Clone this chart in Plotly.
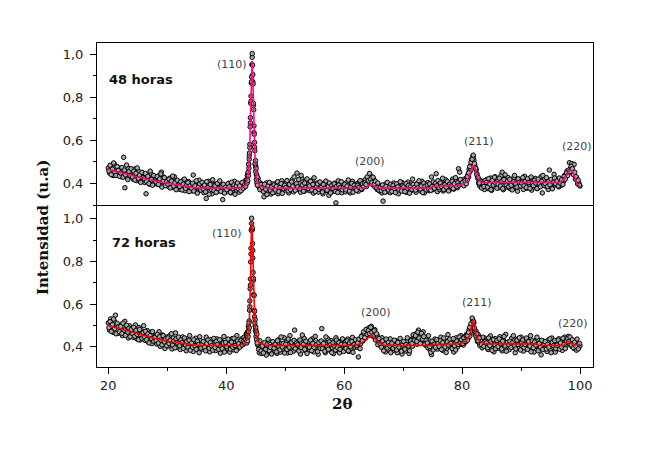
import numpy as np
import plotly.graph_objects as go

# ---------------- data ----------------
# 2-theta sampling grids of the diffractograms (degrees)
two_theta = np.round(np.arange(20.0, 100.0001, 0.2), 1)      # even steps
two_theta_b = np.round(np.arange(20.1, 99.9001, 0.2), 1)     # interleaved steps
peak110_theta_48 = np.round(np.arange(43.5, 45.3001, 0.05), 2)
peak110_theta_72 = np.round(np.arange(43.45, 45.2501, 0.05), 2)
peak211_theta = np.round(np.arange(80.9, 82.9001, 0.2), 1)

# 48 horas - measured intensity (u.a)
int_48 = [
    0.472, 0.448, 0.481, 0.455, 0.437, 0.490, 0.462, 0.443, 0.474, 0.451,
    0.466, 0.431, 0.458, 0.521, 0.380, 0.452, 0.425, 0.470, 0.446, 0.461,
    0.452, 0.420, 0.441, 0.468, 0.413, 0.436, 0.455, 0.409, 0.432, 0.447,
    0.437, 0.404, 0.352, 0.419, 0.428, 0.396, 0.445, 0.413, 0.431, 0.402,
    0.425, 0.398, 0.417, 0.436, 0.392, 0.452, 0.388, 0.429, 0.404, 0.415,
    0.414, 0.385, 0.424, 0.398, 0.381, 0.409, 0.431, 0.390, 0.402, 0.376,
    0.401, 0.372, 0.395, 0.412, 0.380, 0.366, 0.398, 0.387, 0.409, 0.375,
    0.392, 0.366, 0.439, 0.377, 0.389, 0.360, 0.396, 0.415, 0.371, 0.385,
    0.383, 0.357, 0.398, 0.330, 0.389, 0.410, 0.364, 0.381, 0.352, 0.393,
    0.371, 0.396, 0.361, 0.385, 0.404, 0.368, 0.377, 0.325, 0.392, 0.380,
    0.388, 0.362, 0.401, 0.375, 0.356, 0.392, 0.369, 0.410, 0.381, 0.365,
    0.383, 0.360, 0.395, 0.372, 0.398, 0.381, 0.412, 0.408, 0.438, 0.489,
    0.581, 0.805, 0.985, 0.762, 0.590, 0.478, 0.418, 0.423, 0.381, 0.401,
    0.372, 0.395, 0.338, 0.384, 0.402, 0.358, 0.379, 0.390, 0.351, 0.398,
    0.384, 0.360, 0.399, 0.371, 0.352, 0.392, 0.378, 0.412, 0.365, 0.387,
    0.369, 0.404, 0.381, 0.356, 0.395, 0.374, 0.418, 0.361, 0.389, 0.377,
    0.448, 0.372, 0.401, 0.359, 0.425, 0.386, 0.363, 0.410, 0.392, 0.370,
    0.397, 0.366, 0.382, 0.414, 0.355, 0.391, 0.377, 0.402, 0.360, 0.385,
    0.373, 0.399, 0.352, 0.388, 0.406, 0.367, 0.381, 0.345, 0.394, 0.378,
    0.390, 0.364, 0.401, 0.310, 0.376, 0.412, 0.369, 0.385, 0.357, 0.396,
    0.382, 0.361, 0.403, 0.374, 0.392, 0.356, 0.386, 0.410, 0.368, 0.395,
    0.377, 0.399, 0.364, 0.405, 0.388, 0.372, 0.410, 0.393, 0.418, 0.386,
    0.425, 0.402, 0.438, 0.411, 0.395, 0.421, 0.384, 0.403, 0.372, 0.391,
    0.365, 0.388, 0.356, 0.318, 0.380, 0.397, 0.362, 0.374, 0.391, 0.357,
    0.384, 0.369, 0.402, 0.361, 0.379, 0.395, 0.352, 0.387, 0.371, 0.404,
    0.366, 0.390, 0.375, 0.358, 0.406, 0.381, 0.363, 0.397, 0.420, 0.372,
    0.386, 0.359, 0.401, 0.377, 0.392, 0.365, 0.410, 0.383, 0.356, 0.398,
    0.379, 0.404, 0.366, 0.390, 0.430, 0.371, 0.395, 0.385, 0.445, 0.362,
    0.393, 0.371, 0.408, 0.382, 0.365, 0.399, 0.417, 0.376, 0.391, 0.368,
    0.402, 0.385, 0.420, 0.374, 0.396, 0.411, 0.380, 0.468, 0.452, 0.405,
    0.412, 0.395, 0.420, 0.403, 0.428, 0.441, 0.466, 0.482, 0.510, 0.525,
    0.508, 0.478, 0.462, 0.430, 0.402, 0.388, 0.412, 0.381, 0.395, 0.372,
    0.391, 0.418, 0.376, 0.402, 0.425, 0.368, 0.410, 0.387, 0.431, 0.395,
    0.412, 0.380, 0.404, 0.436, 0.452, 0.371, 0.419, 0.398, 0.383, 0.427,
    0.401, 0.375, 0.415, 0.393, 0.428, 0.382, 0.409, 0.364, 0.420, 0.397,
    0.386, 0.411, 0.372, 0.433, 0.399, 0.378, 0.416, 0.392, 0.405, 0.369,
    0.408, 0.384, 0.423, 0.395, 0.377, 0.414, 0.390, 0.431, 0.356, 0.402,
    0.419, 0.387, 0.405, 0.372, 0.462, 0.396, 0.381, 0.412, 0.442, 0.393,
    0.398, 0.415, 0.384, 0.409, 0.392, 0.421, 0.410, 0.438, 0.431, 0.458,
    0.447, 0.496, 0.470, 0.492, 0.451, 0.488, 0.420, 0.428, 0.398, 0.402,
    0.388,
]
int_48_b = [
    0.458, 0.484, 0.441, 0.466, 0.495, 0.452, 0.437, 0.478, 0.460, 0.433,
    0.448, 0.474, 0.429, 0.462, 0.440, 0.485, 0.418, 0.455, 0.436, 0.468,
    0.430, 0.457, 0.416, 0.447, 0.472, 0.424, 0.439, 0.405, 0.451, 0.427,
    0.421, 0.446, 0.409, 0.433, 0.399, 0.457, 0.418, 0.392, 0.437, 0.411,
    0.406, 0.432, 0.395, 0.421, 0.444, 0.383, 0.412, 0.427, 0.390, 0.408,
    0.397, 0.420, 0.379, 0.411, 0.434, 0.388, 0.403, 0.371, 0.415, 0.392,
    0.386, 0.408, 0.370, 0.397, 0.420, 0.377, 0.392, 0.404, 0.362, 0.389,
    0.378, 0.401, 0.365, 0.389, 0.412, 0.355, 0.383, 0.398, 0.369, 0.405,
    0.374, 0.392, 0.361, 0.408, 0.381, 0.350, 0.395, 0.372, 0.417, 0.366,
    0.389, 0.358, 0.400, 0.376, 0.412, 0.363, 0.387, 0.396, 0.355, 0.382,
    0.371, 0.398, 0.384, 0.359, 0.405, 0.377, 0.393, 0.350, 0.388, 0.402,
    0.374, 0.389, 0.366, 0.404, 0.378, 0.392, 0.386, 0.420, 0.447, 0.512,
    0.705, 0.894, 0.872, 0.667, 0.488, 0.441, 0.392, 0.408, 0.371, 0.395,
    0.381, 0.362, 0.396, 0.373, 0.349, 0.389, 0.405, 0.367, 0.384, 0.357,
    0.393, 0.370, 0.386, 0.408, 0.362, 0.381, 0.399, 0.354, 0.376, 0.391,
    0.380, 0.413, 0.365, 0.396, 0.372, 0.407, 0.387, 0.430, 0.368, 0.399,
    0.384, 0.418, 0.375, 0.437, 0.393, 0.364, 0.402, 0.381, 0.421, 0.376,
    0.388, 0.410, 0.370, 0.395, 0.426, 0.362, 0.384, 0.398, 0.373, 0.407,
    0.382, 0.360, 0.395, 0.378, 0.411, 0.369, 0.386, 0.402, 0.356, 0.390,
    0.377, 0.398, 0.363, 0.386, 0.358, 0.393, 0.380, 0.408, 0.371, 0.384,
    0.395, 0.370, 0.388, 0.416, 0.365, 0.383, 0.400, 0.359, 0.391, 0.378,
    0.368, 0.391, 0.382, 0.413, 0.376, 0.398, 0.385, 0.402, 0.395, 0.430,
    0.412, 0.446, 0.419, 0.405, 0.429, 0.397, 0.410, 0.380, 0.402, 0.368,
    0.381, 0.366, 0.393, 0.374, 0.359, 0.387, 0.405, 0.370, 0.382, 0.396,
    0.363, 0.391, 0.377, 0.358, 0.398, 0.384, 0.370, 0.408, 0.365, 0.389,
    0.384, 0.362, 0.399, 0.378, 0.391, 0.355, 0.386, 0.372, 0.395, 0.381,
    0.369, 0.396, 0.380, 0.412, 0.374, 0.389, 0.358, 0.401, 0.387, 0.370,
    0.392, 0.375, 0.398, 0.368, 0.386, 0.407, 0.378, 0.401, 0.389, 0.413,
    0.380, 0.402, 0.386, 0.424, 0.371, 0.395, 0.383, 0.409, 0.365, 0.397,
    0.388, 0.410, 0.376, 0.399, 0.427, 0.386, 0.404, 0.392, 0.418, 0.396,
    0.405, 0.389, 0.413, 0.398, 0.417, 0.430, 0.452, 0.463, 0.498, 0.520,
    0.486, 0.470, 0.445, 0.421, 0.398, 0.410, 0.379, 0.402, 0.386, 0.414,
    0.405, 0.383, 0.422, 0.397, 0.371, 0.414, 0.392, 0.429, 0.401, 0.378,
    0.396, 0.424, 0.388, 0.409, 0.376, 0.418, 0.440, 0.393, 0.411, 0.385,
    0.419, 0.392, 0.370, 0.407, 0.437, 0.398, 0.383, 0.421, 0.405, 0.388,
    0.402, 0.427, 0.389, 0.410, 0.381, 0.422, 0.404, 0.377, 0.430, 0.396,
    0.390, 0.415, 0.402, 0.376, 0.420, 0.398, 0.385, 0.409, 0.437, 0.393,
    0.400, 0.427, 0.386, 0.410, 0.394, 0.419, 0.375, 0.406, 0.425, 0.398,
    0.412, 0.388, 0.425, 0.401, 0.417, 0.395, 0.432, 0.420, 0.448, 0.436,
    0.462, 0.455, 0.479, 0.468, 0.440, 0.452, 0.431, 0.412, 0.415, 0.392,
]
peak110_int_48 = [
    0.418, 0.402, 0.437, 0.413, 0.452, 0.436, 0.489, 0.470, 0.528, 0.541,
    0.566, 0.662, 0.681, 0.772, 0.781, 0.865, 0.872, 0.951, 1.002, 0.948,
    0.905, 0.861, 0.771, 0.742, 0.636, 0.628, 0.568, 0.552, 0.492, 0.506,
    0.455, 0.469, 0.418, 0.441, 0.402, 0.430, 0.392,
]
peak211_int_48 = [0.432, 0.449, 0.478, 0.497, 0.512, 0.531, 0.492, 0.470, 0.441, 0.428, 0.402]

# 48 horas - fitted curve
fit_theta_48 = [20, 22, 24, 26, 28, 30, 32, 34, 35.5, 42.5, 43.0, 43.4, 43.7, 43.95,
                44.15, 44.4, 44.55, 44.7, 44.9, 45.1, 45.4, 45.8, 46.5, 47.5, 54, 54.3,
                63.6, 64.2, 64.6, 65.2, 66, 74.5, 75, 79, 80.2, 80.8, 81.3, 81.85, 82.2,
                82.7, 83.2, 84, 85, 96.5, 97.2, 97.8, 98.3, 98.7, 99.2, 99.6, 100]
fit_int_48 = [0.465, 0.450, 0.436, 0.423, 0.410, 0.400, 0.391, 0.383, 0.378, 0.378, 0.385,
              0.400, 0.430, 0.520, 0.750, 0.968, 0.850, 0.650, 0.500, 0.430, 0.400, 0.387,
              0.380, 0.377, 0.377, 0.380, 0.380, 0.390, 0.395, 0.386, 0.378, 0.378, 0.386,
              0.390, 0.397, 0.410, 0.440, 0.485, 0.470, 0.425, 0.405, 0.403, 0.405, 0.405,
              0.415, 0.440, 0.462, 0.455, 0.420, 0.395, 0.384]

# 72 horas - measured intensity (u.a)
int_72 = [
    0.512, 0.478, 0.531, 0.495, 0.468, 0.520, 0.548, 0.505, 0.462, 0.498,
    0.471, 0.503, 0.452, 0.490, 0.519, 0.465, 0.482, 0.441, 0.498, 0.476,
    0.483, 0.445, 0.470, 0.502, 0.438, 0.461, 0.490, 0.432, 0.475, 0.451,
    0.499, 0.430, 0.458, 0.476, 0.421, 0.449, 0.468, 0.415, 0.455, 0.437,
    0.451, 0.413, 0.440, 0.470, 0.402, 0.436, 0.455, 0.418, 0.392, 0.445,
    0.432, 0.404, 0.452, 0.418, 0.390, 0.441, 0.425, 0.465, 0.397, 0.420,
    0.428, 0.387, 0.411, 0.446, 0.399, 0.420, 0.381, 0.437, 0.414, 0.452,
    0.396, 0.425, 0.378, 0.411, 0.440, 0.392, 0.418, 0.372, 0.431, 0.405,
    0.389, 0.421, 0.402, 0.445, 0.383, 0.412, 0.376, 0.433, 0.398, 0.416,
    0.408, 0.382, 0.437, 0.395, 0.419, 0.370, 0.426, 0.401, 0.448, 0.387,
    0.413, 0.391, 0.429, 0.375, 0.404, 0.438, 0.386, 0.417, 0.397, 0.452,
    0.392, 0.421, 0.403, 0.437, 0.410, 0.445, 0.428, 0.461, 0.452, 0.492,
    0.615, 0.862, 0.948, 0.712, 0.541, 0.482, 0.431, 0.405, 0.372, 0.396,
    0.368, 0.395, 0.377, 0.412, 0.361, 0.390, 0.428, 0.374, 0.401, 0.383,
    0.420, 0.381, 0.406, 0.369, 0.432, 0.397, 0.375, 0.415, 0.388, 0.442,
    0.397, 0.423, 0.371, 0.410, 0.452, 0.386, 0.414, 0.379, 0.478, 0.402,
    0.388, 0.426, 0.405, 0.366, 0.419, 0.395, 0.440, 0.381, 0.412, 0.398,
    0.421, 0.384, 0.409, 0.437, 0.376, 0.401, 0.428, 0.390, 0.365, 0.415,
    0.406, 0.485, 0.393, 0.420, 0.372, 0.411, 0.438, 0.385, 0.402, 0.429,
    0.395, 0.368, 0.417, 0.442, 0.384, 0.408, 0.371, 0.425, 0.399, 0.414,
    0.387, 0.421, 0.402, 0.436, 0.378, 0.410, 0.392, 0.444, 0.419, 0.398,
    0.425, 0.398, 0.352, 0.433, 0.415, 0.452, 0.428, 0.461, 0.440, 0.472,
    0.468, 0.489, 0.455, 0.496, 0.472, 0.447, 0.480, 0.438, 0.452, 0.421,
    0.430, 0.405, 0.442, 0.391, 0.418, 0.376, 0.425, 0.409, 0.384, 0.437,
    0.402, 0.381, 0.418, 0.395, 0.428, 0.372, 0.410, 0.389, 0.422, 0.366,
    0.398, 0.415, 0.380, 0.426, 0.391, 0.368, 0.412, 0.435, 0.402, 0.449,
    0.438, 0.461, 0.412, 0.478, 0.430, 0.452, 0.419, 0.470, 0.426, 0.407,
    0.441, 0.395, 0.428, 0.383, 0.363, 0.414, 0.397, 0.436, 0.405, 0.389,
    0.421, 0.398, 0.445, 0.406, 0.382, 0.430, 0.414, 0.392, 0.457, 0.410,
    0.401, 0.428, 0.389, 0.375, 0.417, 0.442, 0.398, 0.431, 0.410, 0.452,
    0.436, 0.408, 0.447, 0.422, 0.460, 0.438, 0.481, 0.470, 0.503, 0.527,
    0.512, 0.458, 0.471, 0.425, 0.448, 0.406, 0.437, 0.395, 0.428, 0.441,
    0.402, 0.433, 0.387, 0.420, 0.451, 0.395, 0.414, 0.376, 0.438, 0.409,
    0.425, 0.392, 0.447, 0.408, 0.381, 0.430, 0.416, 0.458, 0.397, 0.420,
    0.386, 0.413, 0.440, 0.399, 0.427, 0.372, 0.410, 0.436, 0.393, 0.418,
    0.445, 0.401, 0.380, 0.423, 0.409, 0.437, 0.390, 0.415, 0.452, 0.398,
    0.412, 0.375, 0.428, 0.401, 0.433, 0.388, 0.419, 0.362, 0.405, 0.426,
    0.393, 0.417, 0.378, 0.432, 0.404, 0.386, 0.441, 0.398, 0.412, 0.375,
    0.420, 0.395, 0.437, 0.408, 0.426, 0.383, 0.418, 0.445, 0.402, 0.430,
    0.448, 0.415, 0.436, 0.401, 0.429, 0.392, 0.418, 0.384, 0.412, 0.397,
    0.405,
]
int_72_b = [
    0.489, 0.518, 0.472, 0.504, 0.530, 0.485, 0.461, 0.510, 0.493, 0.470,
    0.495, 0.462, 0.511, 0.478, 0.453, 0.500, 0.469, 0.487, 0.447, 0.482,
    0.462, 0.491, 0.449, 0.477, 0.458, 0.433, 0.481, 0.455, 0.440, 0.466,
    0.446, 0.472, 0.433, 0.460, 0.418, 0.452, 0.438, 0.471, 0.426, 0.444,
    0.429, 0.458, 0.417, 0.446, 0.431, 0.409, 0.452, 0.423, 0.437, 0.405,
    0.441, 0.415, 0.430, 0.461, 0.408, 0.426, 0.395, 0.437, 0.418, 0.445,
    0.405, 0.432, 0.419, 0.393, 0.441, 0.408, 0.425, 0.398, 0.430, 0.384,
    0.417, 0.398, 0.433, 0.405, 0.388, 0.426, 0.410, 0.447, 0.394, 0.413,
    0.424, 0.398, 0.381, 0.415, 0.432, 0.393, 0.420, 0.405, 0.384, 0.439,
    0.396, 0.425, 0.410, 0.388, 0.433, 0.402, 0.391, 0.418, 0.375, 0.421,
    0.400, 0.436, 0.411, 0.389, 0.422, 0.398, 0.440, 0.405, 0.382, 0.427,
    0.415, 0.398, 0.430, 0.408, 0.425, 0.417, 0.436, 0.448, 0.470, 0.521,
    0.718, 0.978, 0.816, 0.641, 0.497, 0.463, 0.412, 0.387, 0.428, 0.380,
    0.403, 0.371, 0.419, 0.388, 0.409, 0.435, 0.382, 0.397, 0.366, 0.424,
    0.393, 0.411, 0.376, 0.428, 0.402, 0.385, 0.446, 0.399, 0.416, 0.371,
    0.412, 0.387, 0.436, 0.398, 0.373, 0.421, 0.402, 0.430, 0.391, 0.417,
    0.409, 0.380, 0.432, 0.397, 0.455, 0.411, 0.388, 0.426, 0.369, 0.403,
    0.398, 0.431, 0.382, 0.416, 0.397, 0.449, 0.409, 0.378, 0.420, 0.393,
    0.427, 0.391, 0.415, 0.379, 0.446, 0.402, 0.388, 0.423, 0.410, 0.372,
    0.418, 0.403, 0.385, 0.431, 0.396, 0.420, 0.388, 0.411, 0.437, 0.378,
    0.409, 0.392, 0.428, 0.381, 0.418, 0.400, 0.425, 0.374, 0.411, 0.433,
    0.406, 0.419, 0.436, 0.391, 0.447, 0.428, 0.470, 0.443, 0.481, 0.458,
    0.476, 0.462, 0.491, 0.468, 0.450, 0.475, 0.432, 0.461, 0.410, 0.439,
    0.415, 0.398, 0.427, 0.381, 0.412, 0.436, 0.394, 0.420, 0.405, 0.372,
    0.417, 0.393, 0.431, 0.405, 0.385, 0.420, 0.398, 0.439, 0.379, 0.408,
    0.425, 0.389, 0.410, 0.442, 0.403, 0.381, 0.428, 0.415, 0.456, 0.431,
    0.452, 0.425, 0.468, 0.441, 0.415, 0.463, 0.435, 0.448, 0.412, 0.430,
    0.418, 0.452, 0.401, 0.374, 0.426, 0.385, 0.412, 0.397, 0.433, 0.415,
    0.402, 0.428, 0.387, 0.419, 0.441, 0.399, 0.373, 0.424, 0.408, 0.436,
    0.416, 0.392, 0.438, 0.404, 0.385, 0.427, 0.411, 0.446, 0.419, 0.433,
    0.415, 0.442, 0.425, 0.451, 0.431, 0.462, 0.449, 0.490, 0.512, 0.518,
    0.485, 0.463, 0.437, 0.458, 0.419, 0.432, 0.410, 0.445, 0.402, 0.424,
    0.418, 0.395, 0.441, 0.406, 0.426, 0.383, 0.433, 0.412, 0.391, 0.429,
    0.401, 0.437, 0.415, 0.390, 0.426, 0.448, 0.404, 0.379, 0.421, 0.409,
    0.426, 0.397, 0.418, 0.452, 0.405, 0.390, 0.431, 0.411, 0.442, 0.385,
    0.419, 0.432, 0.396, 0.411, 0.441, 0.388, 0.425, 0.403, 0.376, 0.428,
    0.396, 0.422, 0.408, 0.445, 0.381, 0.415, 0.398, 0.430, 0.387, 0.411,
    0.424, 0.389, 0.411, 0.398, 0.437, 0.372, 0.420, 0.405, 0.429, 0.391,
    0.407, 0.431, 0.389, 0.418, 0.398, 0.440, 0.411, 0.392, 0.427, 0.438,
    0.425, 0.446, 0.408, 0.433, 0.396, 0.421, 0.403, 0.436, 0.390, 0.415,
]
peak110_int_72 = [
    0.455, 0.418, 0.462, 0.428, 0.471, 0.447, 0.496, 0.471, 0.512, 0.489,
    0.571, 0.588, 0.672, 0.689, 0.798, 0.835, 0.946, 1.003, 0.951, 0.958,
    0.884, 0.852, 0.749, 0.721, 0.645, 0.642, 0.571, 0.566, 0.512, 0.528,
    0.476, 0.491, 0.448, 0.470, 0.433, 0.459, 0.418,
]
peak211_int_72 = [0.452, 0.468, 0.492, 0.508, 0.535, 0.518, 0.488, 0.452, 0.460, 0.428, 0.441]

# 72 horas - fitted curve
fit_theta_72 = [20, 22, 24, 26, 28, 30, 32, 34, 35.5, 42, 42.7, 43.2, 43.6, 43.9, 44.1,
                44.3, 44.45, 44.6, 44.8, 45.0, 45.3, 45.7, 46.3, 47, 62, 62.8, 63.6, 64.6,
                65.3, 65.9, 66.6, 67.5, 74.5, 75, 78.5, 79.8, 80.6, 81.2, 81.6, 81.85,
                82.1, 82.5, 83.0, 84, 92.5, 93, 97.2, 97.7, 98.1, 98.5, 99, 100]
fit_int_72 = [0.500, 0.484, 0.468, 0.452, 0.438, 0.426, 0.417, 0.410, 0.406, 0.406, 0.410,
              0.420, 0.440, 0.500, 0.700, 0.995, 0.900, 0.700, 0.550, 0.470, 0.430, 0.415,
              0.410, 0.406, 0.406, 0.415, 0.430, 0.457, 0.435, 0.418, 0.408, 0.406, 0.406,
              0.410, 0.413, 0.415, 0.425, 0.450, 0.490, 0.530, 0.490, 0.445, 0.425, 0.414,
              0.413, 0.406, 0.406, 0.415, 0.426, 0.415, 0.409, 0.410]

panel_labels = ["48 horas", "72 horas"]
peak_labels = ["(110)", "(200)", "(211)", "(220)"]

# ---------------- figure ----------------
X_RANGE = [18.08, 102.2]
TICK_FONT = dict(family="DejaVu Sans, Verdana, sans-serif", size=13, color="#222222")
TITLE_FONT = dict(family="DejaVu Serif, serif", size=15, color="#111111")
ANN_FONT = dict(family="DejaVu Sans, Verdana, sans-serif", size=11, color="#444444")

marker_style = dict(symbol="circle", size=4.5, color="#a8a8a8",
                    line=dict(color="#000000", width=1))

fig = go.Figure()

# bottom panel (72 h) on x / y
fig.add_trace(go.Scatter(
    x=np.concatenate([two_theta, two_theta_b, peak110_theta_72, peak211_theta]),
    y=np.concatenate([int_72, int_72_b, peak110_int_72, peak211_int_72]),
    mode="markers", marker=marker_style, xaxis="x", yaxis="y",
    showlegend=False, hoverinfo="skip"))
fig.add_trace(go.Scatter(
    x=fit_theta_72, y=fit_int_72, mode="lines",
    line=dict(color="#ff0000", width=1.6), xaxis="x", yaxis="y",
    showlegend=False, hoverinfo="skip"))

# top panel (48 h) on x2 / y2
fig.add_trace(go.Scatter(
    x=np.concatenate([two_theta, two_theta_b, peak110_theta_48, peak211_theta]),
    y=np.concatenate([int_48, int_48_b, peak110_int_48, peak211_int_48]),
    mode="markers", marker=marker_style, xaxis="x2", yaxis="y2",
    showlegend=False, hoverinfo="skip"))
fig.add_trace(go.Scatter(
    x=fit_theta_48, y=fit_int_48, mode="lines",
    line=dict(color="#ff0a80", width=1.6), xaxis="x2", yaxis="y2",
    showlegend=False, hoverinfo="skip"))

axis_line = dict(showline=True, linecolor="black", linewidth=1, showgrid=False,
                 zeroline=False)

fig.update_layout(
    width=661, height=463,
    margin=dict(l=97, r=68, t=43, b=96),
    paper_bgcolor="white", plot_bgcolor="white",
    separators=",.",
    showlegend=False,
    xaxis=dict(domain=[0, 1], anchor="y", range=X_RANGE, mirror=False,
               tick0=20, dtick=20, ticks="outside", ticklen=6, tickwidth=1,
               tickcolor="black", tickfont=TICK_FONT, ticklabelstandoff=0,
               minor=dict(dtick=10, tick0=20, ticks="outside", ticklen=3,
                          tickcolor="black"),
               **axis_line),
    xaxis3=dict(overlaying="x", anchor="y", side="top", range=X_RANGE,
                tick0=20, dtick=20, ticks="inside", ticklen=6, tickcolor="black",
                showticklabels=False,
                minor=dict(dtick=10, tick0=20, ticks="inside", ticklen=3,
                           tickcolor="black"),
                showgrid=False, zeroline=False, showline=False),
    xaxis2=dict(domain=[0, 1], anchor="y2", range=X_RANGE, mirror=True,
                showticklabels=False, ticks="", **axis_line),
    xaxis4=dict(overlaying="x2", anchor="y2", side="top", range=[0, 10],
                tickvals=[2, 4, 6, 8], ticks="inside", ticklen=6,
                tickcolor="black", showticklabels=False,
                minor=dict(tickvals=[1, 3, 5, 7, 9], ticks="inside", ticklen=3,
                           tickcolor="black"),
                showgrid=False, zeroline=False, showline=False),
    yaxis=dict(domain=[0, 0.5], anchor="x", range=[0.305, 1.065], mirror=True,
               tick0=0.4, dtick=0.2, tickformat=".1f", ticks="outside",
               ticklen=6, tickcolor="black", tickfont=TICK_FONT,
               ticklabelstandoff=4,
               minor=dict(dtick=0.1, tick0=0.4, ticks="outside", ticklen=3,
                          tickcolor="black"),
               **axis_line),
    yaxis2=dict(domain=[0.5, 1], anchor="x2", range=[0.3, 1.051], mirror=True,
                tick0=0.4, dtick=0.2, tickformat=".1f", ticks="outside",
                ticklen=6, tickcolor="black", tickfont=TICK_FONT,
                ticklabelstandoff=4,
                minor=dict(dtick=0.1, tick0=0.4, ticks="outside", ticklen=3,
                           tickcolor="black"),
                **axis_line),
    yaxis3=dict(overlaying="y", anchor="x", side="right", range=[0, 10],
                tickvals=[2, 4, 6, 8], ticks="inside", ticklen=5,
                tickcolor="black", showticklabels=False,
                minor=dict(tickvals=[1, 3, 5, 7, 9], ticks="inside", ticklen=3,
                           tickcolor="black"),
                showgrid=False, zeroline=False, showline=False),
    yaxis4=dict(overlaying="y2", anchor="x2", side="right", range=[0, 10],
                tickvals=[2, 4, 6, 8], ticks="inside", ticklen=5,
                tickcolor="black", showticklabels=False,
                minor=dict(tickvals=[1, 3, 5, 7, 9], ticks="inside", ticklen=3,
                           tickcolor="black"),
                showgrid=False, zeroline=False, showline=False),
)

annotations = []
# axis titles
annotations.append(dict(text="<b>Intensidad (u.a)</b>", xref="paper", yref="paper",
                        x=-0.11, y=0.43, xanchor="center", yanchor="middle",
                        textangle=-90, showarrow=False, font=TITLE_FONT))
annotations.append(dict(text="<b>2θ</b>", xref="paper", yref="paper",
                        x=0.494, y=-0.114, xanchor="center", yanchor="middle",
                        showarrow=False, font=TITLE_FONT))
# panel labels
panel_label_pos = [("x2", "y2", 25.46, 0.880), ("x", "y", 26.05, 0.891)]
for text, (xr, yr, px, py) in zip(panel_labels, panel_label_pos):
    annotations.append(dict(text=f"<b>{text}</b>", xref=xr, yref=yr, x=px, y=py,
                            showarrow=False,
                            font=dict(family="DejaVu Sans, Verdana, sans-serif",
                                      size=13, color="#111111")))
# peak labels
peak_pos_48 = [(40.9, 0.951), (64.36, 0.500), (82.9, 0.593), (99.5, 0.570)]
peak_pos_72 = [(40.15, 0.933), (65.4, 0.559), (82.5, 0.606), (98.76, 0.508)]
for lbl, (px, py) in zip(peak_labels, peak_pos_48):
    annotations.append(dict(text=lbl, xref="x2", yref="y2", x=px, y=py,
                            showarrow=False, font=ANN_FONT))
for lbl, (px, py) in zip(peak_labels, peak_pos_72):
    annotations.append(dict(text=lbl, xref="x", yref="y", x=px, y=py,
                            showarrow=False, font=ANN_FONT))

fig.update_layout(annotations=annotations)

# the page itself should have no body margin, so the chart starts at the window corner
fig.write_html("out.html", config={"displayModeBar": False},
               post_script="document.body.style.margin='0';")
